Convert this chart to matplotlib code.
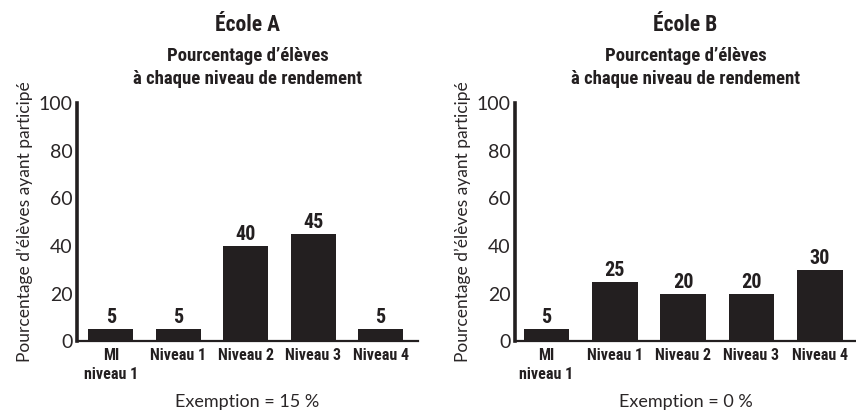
"""Two bar charts: percentage of students at each achievement level, École A and École B."""
import matplotlib
matplotlib.use("Agg")
import matplotlib.pyplot as plt
from matplotlib import font_manager

CATEGORIES = ["MI\nniveau 1", "Niveau 1", "Niveau 2", "Niveau 3", "Niveau 4"]
ECOLE_A = [5, 5, 40, 45, 5]
ECOLE_B = [5, 25, 20, 20, 30]
SCHOOLS = ["École A", "École B"]
EXEMPTIONS = ["Exemption = 15 %", "Exemption = 0 %"]
SUBTITLE = "Pourcentage d’élèves\nà chaque niveau de rendement"
YLABEL = "Pourcentage d’élèves ayant participé"

INK = "#231f20"

# condensed bold font if one is around, else fallback
installed = {f.name for f in font_manager.fontManager.ttflist}
BOLD = [f for f in ["Liberation Sans Narrow", "Roboto Condensed", "DejaVu Sans"] if f in installed]
LIGHT = [f for f in ["Lato", "Open Sans", "DejaVu Sans"] if f in installed]

fig = plt.figure(figsize=(8.56, 4.12), dpi=100)

panels = [
    (ECOLE_A, [0.090, 0.172, 0.398, 0.578], (-0.5, 4.55)),
    (ECOLE_B, [0.6016, 0.172, 0.3984, 0.578], (-0.46, 4.53)),
]

for i, (values, rect, xlim) in enumerate(panels):
    ax = fig.add_axes(rect)
    xs = range(len(CATEGORIES))
    ax.bar(xs, values, width=0.667, color=INK)
    for x, v in zip(xs, values):
        ax.text(x, v + 0.8, str(v), ha="center", va="bottom",
                family=BOLD, fontweight="bold", fontsize=14.5, color=INK)

    ax.set_xlim(*xlim)
    ax.set_ylim(0, 100)
    ax.set_yticks([0, 20, 40, 60, 80, 100])
    ax.set_xticks(list(xs))
    ax.set_xticklabels(CATEGORIES, family=BOLD, fontweight="bold", fontsize=11.5,
                       color=INK, linespacing=1.3)
    for lbl in ax.get_yticklabels():
        lbl.set_family(LIGHT)
        lbl.set_fontweight("normal")
        lbl.set_fontsize(14)
        lbl.set_color("#2a2627")
    ax.tick_params(axis="both", length=0)
    ax.tick_params(axis="y", pad=3)
    ax.tick_params(axis="x", pad=5)

    for side in ["top", "right"]:
        ax.spines[side].set_visible(False)
    ax.spines["left"].set_linewidth(2.6)
    ax.spines["left"].set_color(INK)
    ax.spines["bottom"].set_linewidth(1.6)
    ax.spines["bottom"].set_color(INK)

    ax.set_ylabel(YLABEL, family=LIGHT, fontweight="normal", fontsize=12.5,
                  color="#2a2627", labelpad=4)

    cx = rect[0] + rect[2] / 2
    fig.text(cx, 0.939, SCHOOLS[i], ha="center", va="center",
             family=BOLD, fontweight="bold", fontsize=15.5, color=INK)
    fig.text(cx, 0.837, SUBTITLE, ha="center", va="center",
             family=BOLD, fontweight="bold", fontsize=13.5, color=INK, linespacing=1.35)
    fig.text(cx, 0.024, EXEMPTIONS[i], ha="center", va="center",
             family=LIGHT, fontweight="normal", fontsize=13, color="#2a2627")

fig.savefig("out.png", dpi=100)
